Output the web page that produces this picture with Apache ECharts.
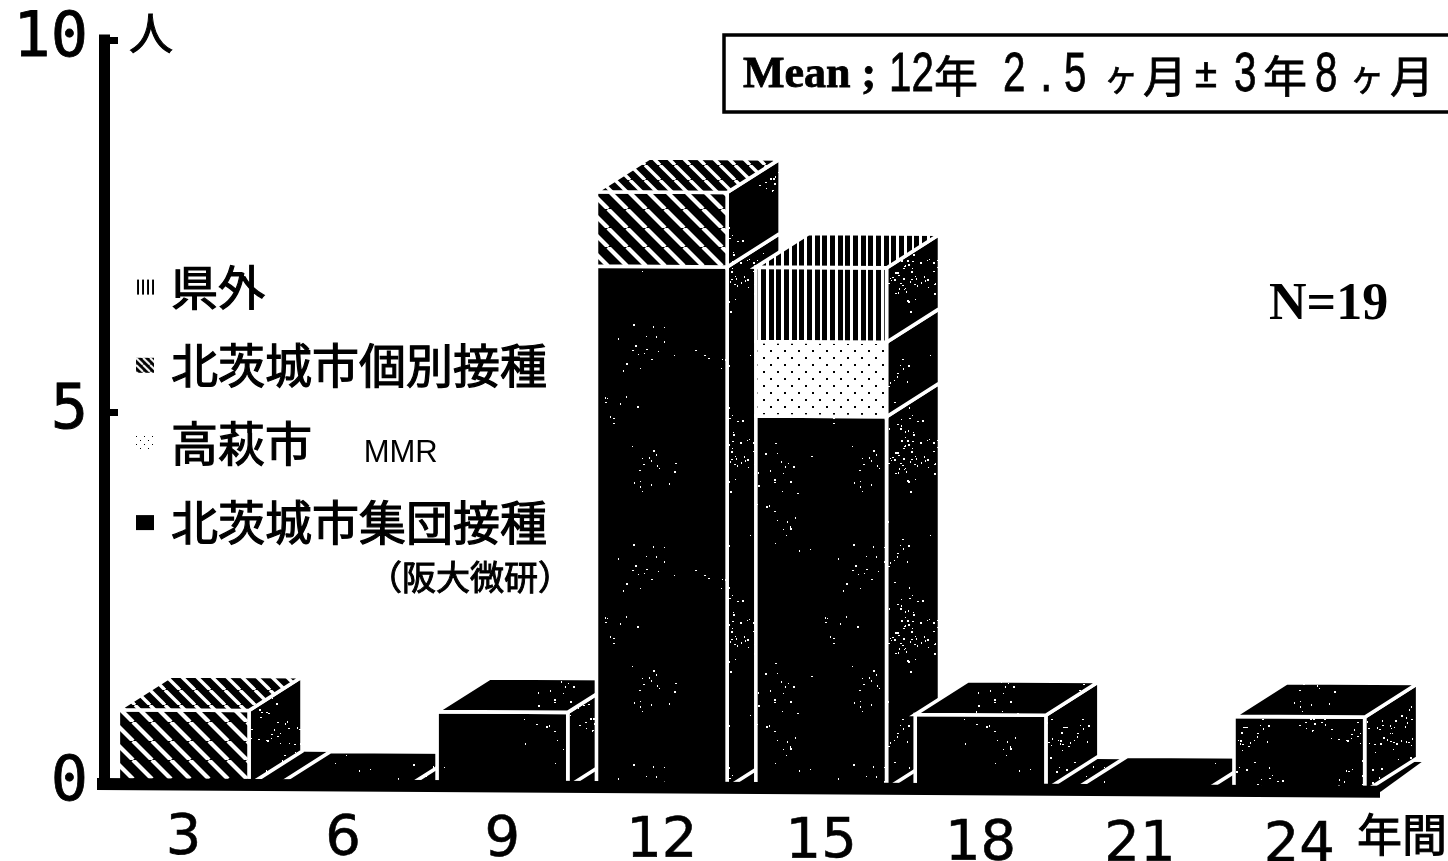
<!DOCTYPE html>
<html>
<head>
<meta charset="utf-8">
<style>html,body{margin:0;padding:0;background:#fff}#chart{width:1448px;height:861px}</style>
<script src="https://cdn.jsdelivr.net/npm/echarts@6/dist/echarts.min.js"></script>
</head>
<body>
<div id="chart"></div>
<script>
// Years since vaccination, and number of people per group in each 3-year class.
const categories = ['3', '6', '9', '12', '15', '18', '21', '24'];
const shudan   = [0, 0, 1, 7, 5, 1, 0, 1];
const takahagi = [0, 0, 0, 0, 1, 0, 0, 0];
const kobetsu  = [1, 0, 0, 1, 0, 0, 0, 0];
const kengai   = [0, 0, 0, 0, 1, 0, 0, 0];
const yTicks = { min: 0, max: 10, interval: 5 };

const layerNames = ['北茨城市集団接種', '高萩市    MMR', '北茨城市個別接種', '県外'];
const layers = [shudan, takahagi, kobetsu, kengai];

// Drawing constants for the cuboids.
const BAR_RATIO = 0.82, DEPTH_X = 53, DEPTH_Y = 34, TILT = 0.006, EDGE = 3.6;

function tile(w, h, paint) {
  const c = document.createElement('canvas');
  c.width = w; c.height = h;
  paint(c.getContext('2d'), w, h);
  return { image: c, repeat: 'repeat' };
}
function diagonal(period, line) {
  return tile(period, period, (g, w, h) => {
    g.fillStyle = '#000'; g.fillRect(0, 0, w, h);
    g.strokeStyle = '#fff'; g.lineWidth = line;
    [-w, 0, w].forEach(o => { g.beginPath(); g.moveTo(o, 0); g.lineTo(o + w, h); g.stroke(); });
  });
}
function dotted(px, py, r) {
  return tile(px * 2, py * 2, (g, w, h) => {
    g.fillStyle = '#fff'; g.fillRect(0, 0, w, h);
    g.fillStyle = '#000';
    g.fillRect(0, 0, r, r);
    g.fillRect(px, py, r, r);
  });
}
// Black ground with clusters of white flecks, from a fixed number sequence.
function speckle(size, clusters, flecks) {
  return tile(size, size, (g, w, h) => {
    g.fillStyle = '#000'; g.fillRect(0, 0, w, h);
    g.fillStyle = '#fff';
    let s = 12345;
    const next = m => { s = (s * 1103515245 + 12345) & 0x7fffffff; return (s >>> 16) % m; };
    for (let i = 0; i < clusters; i++) {
      const cx = next(w), cy = next(h);
      for (let j = 0; j < flecks; j++) {
        const dx = next(30) - next(30), dy = next(30) - next(30);
        g.fillRect((cx + dx + w) % w, (cy + dy + h) % h, 1 + next(2), 1 + next(2));
      }
    }
  });
}

const speckSparse = speckle(220, 10, 9);
const speckDense = speckle(180, 14, 20);
const stripes = tile(23, 4, (g, w, h) => {
  g.fillStyle = '#fff'; g.fillRect(0, 0, w, h);
  g.fillStyle = '#000';
  [0, 8, 15].forEach(x => g.fillRect(x + 2, 0, 5, h));
});
const frontFills = [speckSparse, dotted(7, 7, 2), diagonal(19, 4.2), stripes];
const topFills = [speckSparse, speckSparse, diagonal(15, 3.4), stripes];
const legendFills = [
  '#000',
  dotted(4, 4, 1),
  diagonal(7, 2),
  tile(5, 4, (g, w, h) => { g.fillStyle = '#fff'; g.fillRect(0, 0, w, h); g.fillStyle = '#000'; g.fillRect(1, 0, 2, h); })
];

function tilt(p) { return [p[0], p[1] + (p[0] - 104) * TILT]; }
function face(pts, fill, z2) {
  return {
    type: 'polygon', z2,
    shape: { points: pts.map(tilt) },
    style: { fill, stroke: '#fff', lineWidth: EDGE, lineJoin: 'miter' }
  };
}

// One stacked segment of a cuboid; the highest segment also gets the lid.
function renderLayer(li) {
  return function (params, api) {
    const i = api.value(0);
    const below = layers.slice(0, li).reduce((t, a) => t + a[i], 0);
    const v = layers[li][i];
    const total = layers.reduce((t, a) => t + a[i], 0);
    const w = api.size([1, 0])[0] * BAR_RATIO;
    const cx = api.coord([i, 0])[0];
    const x0 = cx - w / 2, x1 = cx + w / 2;
    const yb = api.coord([i, below])[1];
    const yt = api.coord([i, below + v])[1];
    const z = 100 + i * 10 + li;
    const children = [];
    if (v > 0) {
      children.push(face([[x1, yb], [x1 + DEPTH_X, yb - DEPTH_Y], [x1 + DEPTH_X, yt - DEPTH_Y], [x1, yt]], speckDense, z));
      children.push(face([[x0, yb], [x1, yb], [x1, yt], [x0, yt]], i === categories.length - 1 ? speckDense : frontFills[li], z + 1));
    }
    const isTopLayer = v > 0 ? below + v === total : (total === 0 && li === 0);
    if (isTopLayer) {
      children.push(face([[x0, yt], [x1, yt], [x1 + DEPTH_X, yt - DEPTH_Y], [x0 + DEPTH_X, yt - DEPTH_Y]], topFills[li], z + 2));
    }
    return { type: 'group', children };
  };
}

// Black floor behind the cuboids and the thick base line in front of them.
function renderGround(params, api) {
  const n = categories.length;
  const w = api.size([1, 0])[0] * BAR_RATIO;
  const y0 = api.coord([0, 0])[1];
  const left = api.coord([0, 0])[0] - w / 2;
  const right = api.coord([n - 1, 0])[0] + w / 2 + 16;
  const floor = [[left, y0], [right, y0], [right + DEPTH_X - 12, y0 - DEPTH_Y + 4], [left + DEPTH_X, y0 - DEPTH_Y]];
  const band = [[97, y0 - 6], [1380, y0 - 6], [1380, y0 + 6], [97, y0 + 6]];
  return {
    type: 'group',
    children: [
      { type: 'polygon', z2: 1, shape: { points: floor.map(tilt) }, style: { fill: speckSparse } },
      { type: 'polygon', z2: 500, shape: { points: band.map(tilt) }, style: { fill: '#000' } }
    ]
  };
}

const dataRows = categories.map((c, i) => [i]);
const cjk = '"Noto Sans CJK JP"';

const series = [{
  name: 'ground', type: 'custom', silent: true, clip: false,
  renderItem: renderGround, data: [[0]], encode: { x: 0 }
}].concat(layerNames.map((name, li) => ({
  name, type: 'custom', silent: true, clip: false,
  renderItem: renderLayer(li), data: dataRows, encode: { x: 0 },
  itemStyle: { color: legendFills[li] }
})));

// Box text is set in narrow pieces, each placed on its own.
const digitFont = '56px "Liberation Sans"', kanjiFont = '44px ' + cjk;
const meanPieces = [
  { text: 'Mean ;', x: 743, font: 'bold 44px "Liberation Serif"', sx: 1 },
  { text: '12', x: 889, font: digitFont, sx: 0.72 },
  { text: '年', x: 934, font: kanjiFont, sx: 1 },
  { text: '2', x: 1003, font: digitFont, sx: 0.72 },
  { text: '.', x: 1040, font: digitFont, sx: 0.8 },
  { text: '5', x: 1064, font: digitFont, sx: 0.72 },
  { text: 'ヶ', x: 1104, font: '38px ' + cjk, sx: 0.9 },
  { text: '月', x: 1143, font: kanjiFont, sx: 1 },
  { text: '±', x: 1195, font: '40px "Liberation Sans"', sx: 1 },
  { text: '3', x: 1234, font: digitFont, sx: 0.72 },
  { text: '年', x: 1263, font: kanjiFont, sx: 1 },
  { text: '8', x: 1315, font: digitFont, sx: 0.72 },
  { text: 'ヶ', x: 1350, font: '38px ' + cjk, sx: 0.9 },
  { text: '月', x: 1390, font: kanjiFont, sx: 1 }
];

const heavy = { fill: '#000', stroke: '#000', lineWidth: 1, verticalAlign: 'middle' };
const graphic = [
  { type: 'rect', shape: { x: 724, y: 35, width: 740, height: 77 }, style: { fill: 'none', stroke: '#000', lineWidth: 3.5 } },
  { type: 'text', x: 1269, y: 306, style: { text: 'N=19', font: 'bold 52px "Liberation Serif"', fill: '#000', verticalAlign: 'middle' } },
  { type: 'text', x: 129, y: 33, style: { text: '人', font: '44px ' + cjk, ...heavy } },
  { type: 'text', x: 1357, y: 835, style: { text: '年間', font: '45px ' + cjk, ...heavy } },
  { type: 'text', x: 368, y: 577, style: { text: '（阪大微研）', font: '34px ' + cjk, ...heavy, align: 'left' } }
].concat(meanPieces.map(p => ({
  type: 'text', x: p.x, y: 76, scaleX: p.sx,
  style: { text: p.text, font: p.font, fill: '#000', stroke: '#000', lineWidth: 0.8, verticalAlign: 'middle' }
})));

const xRich = {};
categories.forEach((c, i) => {
  xRich['c' + i] = {
    fontFamily: '"DejaVu Sans"', fontSize: 56, color: '#000',
    textBorderColor: '#000', textBorderWidth: 0.6,
    padding: [Math.round(i * 1.1), 0, 0, 0]
  };
});

const option = {
  animation: false,
  backgroundColor: '#fff',
  grid: { left: 104, right: 1448 - 1379, top: 40, bottom: 861 - 784, containLabel: false, outerBoundsMode: 'none' },
  legend: {
    left: 131, top: 258, orient: 'vertical', itemWidth: 18, itemHeight: 15, itemGap: 30,
    selectedMode: false, icon: 'rect', align: 'left',
    data: layerNames.slice().reverse().map((name) => ({ name, icon: 'rect', itemStyle: { color: legendFills[layerNames.indexOf(name)], borderWidth: 0 } })),
    formatter: name => name.includes('MMR') ? '{a|高萩市}{b|      MMR}' : '{a|' + name + '}',
    textStyle: {
      padding: [0, 0, 0, 12],
      rich: {
        a: { fontFamily: cjk, fontSize: 47, lineHeight: 50, color: '#000', textBorderColor: '#000', textBorderWidth: 1.2 },
        b: { fontFamily: '"Liberation Sans"', fontSize: 31, lineHeight: 50, color: '#000', verticalAlign: 'bottom' }
      }
    }
  },
  xAxis: {
    type: 'category', data: categories, boundaryGap: true,
    axisLine: { show: false }, axisTick: { show: false },
    axisLabel: {
      margin: 26, interval: 0,
      formatter: (v, i) => '{c' + i + '|' + v + '}',
      rich: xRich
    }
  },
  yAxis: {
    type: 'value', min: yTicks.min, max: yTicks.max, interval: yTicks.interval,
    splitLine: { show: false },
    axisLine: { show: true, lineStyle: { color: '#000', width: 11, cap: 'square' } },
    axisTick: { show: true, inside: true, length: 14, lineStyle: { color: '#000', width: 7 } },
    axisLabel: {
      margin: 16, fontFamily: '"DejaVu Sans Mono"', fontSize: 62, color: '#000', align: 'right',
      textBorderColor: '#000', textBorderWidth: 0.8
    }
  },
  graphic,
  series
};

echarts.init(document.getElementById('chart'), null, { renderer: 'canvas' }).setOption(option);
</script>
</body>
</html>
